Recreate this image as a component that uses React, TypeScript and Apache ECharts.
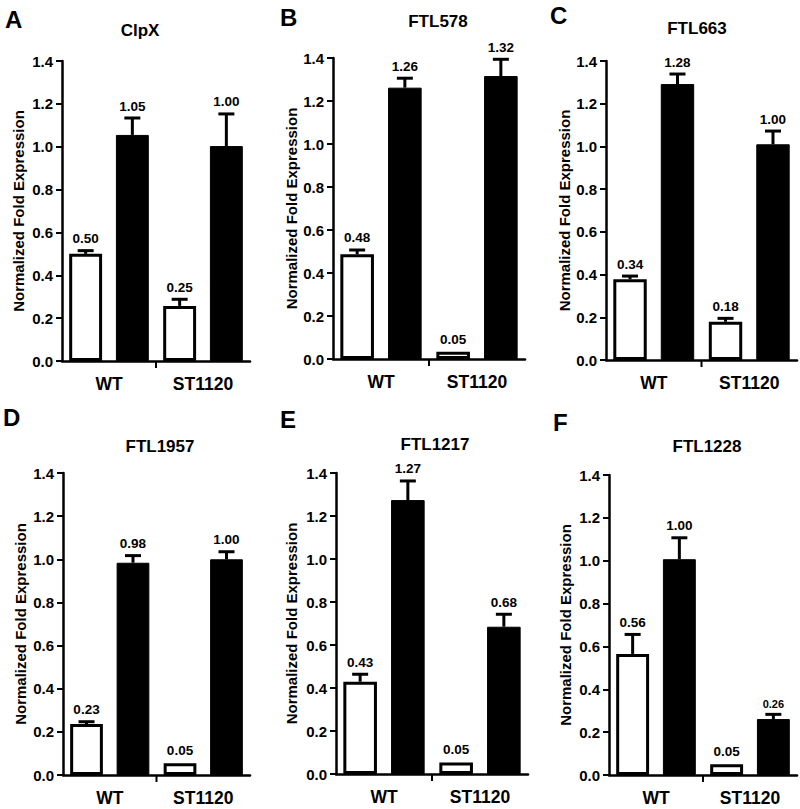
import React, { useEffect, useRef } from "react";
import * as echarts from "echarts";

const categories = ["WT", "ST1120"];
const yTicks = [0, 0.2, 0.4, 0.6, 0.8, 1.0, 1.2, 1.4];

const panelLetters = ["A", "B", "C", "D", "E", "F"];
const panelTitles = ["ClpX", "FTL578", "FTL663", "FTL1957", "FTL1217", "FTL1228"];

// open bars (first series) mean values
const openValues = [
  [0.5, 0.257],
  [0.487, 0.034],
  [0.378, 0.179],
  [0.236, 0.054],
  [0.429, 0.053],
  [0.565, 0.05],
];
// open bars upper error bar ends
const openErrTop = [
  [0.515, 0.288],
  [0.507, 0.034],
  [0.393, 0.195],
  [0.247, 0.058],
  [0.464, 0.057],
  [0.656, 0.053],
];
const openLabels = [
  ["0.50", "0.25"],
  ["0.48", "0.05"],
  ["0.34", "0.18"],
  ["0.23", "0.05"],
  ["0.43", "0.05"],
  ["0.56", "0.05"],
];

// filled bars (second series) mean values
const filledValues = [
  [1.055, 1.003],
  [1.262, 1.316],
  [1.292, 1.01],
  [0.984, 1.0],
  [1.274, 0.685],
  [1.007, 0.261],
];
const filledErrTop = [
  [1.134, 1.153],
  [1.306, 1.394],
  [1.339, 1.072],
  [1.017, 1.035],
  [1.363, 0.743],
  [1.107, 0.283],
];
const filledLabels = [
  ["1.05", "1.00"],
  ["1.26", "1.32"],
  ["1.28", "1.00"],
  ["0.98", "1.00"],
  ["1.27", "0.68"],
  ["1.00", "0.26"],
];

// layout (pixels)
const grids = [
  { left: 62, top: 61, width: 188, height: 300 },
  { left: 333, top: 58, width: 192, height: 301 },
  { left: 606, top: 61, width: 191, height: 299 },
  { left: 63, top: 473, width: 187, height: 302 },
  { left: 336, top: 473, width: 192, height: 301 },
  { left: 609, top: 475, width: 188, height: 300 },
];
const nameGaps = [36, 30, 32, 35, 37, 36];
const titlePos = [
  [140, 22],
  [438, 13],
  [697, 20],
  [160, 438],
  [435, 436],
  [707, 438],
];
const letterPos = [
  [5, 7],
  [280, 5],
  [550, 3],
  [3, 405],
  [280, 407],
  [553, 410],
];
const smallLabelFor = (label: string, panel: number) => panel === 5 && label === "0.26";

const FONT = '"Liberation Sans", Arial, Helvetica, sans-serif';
const BAR_W = 0.35;
const BAR_GAP = 0.42;
const OFFSET = (BAR_W + BAR_W * BAR_GAP) / 2;

function errorRenderer(labels: string[], offsetSign: number, panel: number) {
  return (params: any, api: any) => {
    const cat = api.value(0);
    const v = api.value(1);
    const e = api.value(2);
    const w = api.size([1, 0])[0];
    const base = api.coord([cat, v]);
    const top = api.coord([cat, e]);
    const x = base[0] + offsetSign * OFFSET * w;
    const children: any[] = [];
    if (top[1] < base[1] - 1) {
      children.push({
        type: "line",
        shape: { x1: x, y1: base[1], x2: x, y2: top[1] },
        style: { stroke: "#000", lineWidth: 3 },
      });
      children.push({
        type: "line",
        shape: { x1: x - 8, y1: top[1], x2: x + 8, y2: top[1] },
        style: { stroke: "#000", lineWidth: 3 },
      });
    }
    const label = labels[params.dataIndex];
    const small = smallLabelFor(label, panel);
    children.push({
      type: "text",
      x: x,
      y: top[1] - 5,
      style: {
        text: label,
        fill: "#000",
        font: `bold ${small ? 11 : 13.5}px ${FONT}`,
        align: "center",
        verticalAlign: "bottom",
        textAlign: "center",
        textVerticalAlign: "bottom",
      },
    });
    return { type: "group", children };
  };
}

function tickRenderer(params: any, api: any) {
  const w = api.size([1, 0])[0];
  const p = api.coord([0, 0]);
  const x = p[0] + w / 2;
  return {
    type: "line",
    shape: { x1: x, y1: p[1], x2: x, y2: p[1] + 7 },
    style: { stroke: "#000", lineWidth: 2 },
  };
}

export default function App() {
  const ref = useRef<HTMLDivElement>(null);
  useEffect(() => {
    document.body.style.margin = "0";
    if (!ref.current) return;
    const chart = echarts.init(ref.current, undefined, { renderer: "svg" });

    const grid: any[] = [];
    const xAxis: any[] = [];
    const yAxis: any[] = [];
    const series: any[] = [];
    const graphic: any[] = [];

    for (let i = 0; i < 6; i++) {
      grid.push({ ...grids[i], containLabel: false });
      xAxis.push({
        type: "category",
        gridIndex: i,
        data: categories,
        axisLine: { lineStyle: { color: "#000", width: 2.5 } },
        axisTick: { show: false },
        axisLabel: {
          color: "#000",
          fontSize: 17.5,
          fontWeight: "bold",
          fontFamily: FONT,
          margin: 14,
        },
        splitLine: { show: false },
      });
      yAxis.push({
        type: "value",
        gridIndex: i,
        min: yTicks[0],
        max: yTicks[yTicks.length - 1],
        interval: 0.2,
        name: "Normalized Fold Expression",
        nameLocation: "middle",
        nameGap: nameGaps[i],
        nameTextStyle: {
          color: "#000",
          fontSize: 15,
          fontWeight: "bold",
          fontFamily: FONT,
        },
        axisLine: { show: true, lineStyle: { color: "#000", width: 2.5 } },
        axisTick: { show: true, length: 6, lineStyle: { color: "#000", width: 2 } },
        axisLabel: {
          color: "#000",
          fontSize: 15,
          fontWeight: "bold",
          fontFamily: FONT,
          margin: 9,
          formatter: (v: number) => v.toFixed(1),
        },
        splitLine: { show: false },
      });
      series.push({
        type: "bar",
        xAxisIndex: i,
        yAxisIndex: i,
        data: openValues[i],
        barWidth: `${BAR_W * 100}%`,
        barGap: `${BAR_GAP * 100}%`,
        itemStyle: { color: "#fff", borderColor: "#000", borderWidth: 3 },
        z: 2,
      });
      series.push({
        type: "bar",
        xAxisIndex: i,
        yAxisIndex: i,
        data: filledValues[i],
        barWidth: `${BAR_W * 100}%`,
        barGap: `${BAR_GAP * 100}%`,
        itemStyle: { color: "#000", borderColor: "#000", borderWidth: 1 },
        z: 2,
      });
      series.push({
        type: "custom",
        xAxisIndex: i,
        yAxisIndex: i,
        data: openValues[i].map((v, k) => [k, v, openErrTop[i][k]]),
        encode: { x: 0, y: 1 },
        renderItem: errorRenderer(openLabels[i], -1, i),
        z: 3,
      });
      series.push({
        type: "custom",
        xAxisIndex: i,
        yAxisIndex: i,
        data: filledValues[i].map((v, k) => [k, v, filledErrTop[i][k]]),
        encode: { x: 0, y: 1 },
        renderItem: errorRenderer(filledLabels[i], 1, i),
        z: 3,
      });
      series.push({
        type: "custom",
        xAxisIndex: i,
        yAxisIndex: i,
        data: [[0, 0]],
        encode: { x: 0, y: 1 },
        renderItem: tickRenderer,
        z: 3,
      });
      graphic.push({
        type: "text",
        x: titlePos[i][0],
        y: titlePos[i][1],
        style: {
          text: panelTitles[i],
          fill: "#000",
          font: `bold 17px ${FONT}`,
          align: "center",
          verticalAlign: "top",
          textAlign: "center",
          textVerticalAlign: "top",
        },
      });
      graphic.push({
        type: "text",
        x: letterPos[i][0],
        y: letterPos[i][1],
        style: {
          text: panelLetters[i],
          fill: "#000",
          font: `bold 24px ${FONT}`,
          align: "left",
          verticalAlign: "top",
        },
      });
    }

    chart.setOption({
      animation: false,
      backgroundColor: "#fff",
      grid,
      xAxis,
      yAxis,
      series,
      graphic,
    });
    return () => chart.dispose();
  }, []);
  return <div ref={ref} style={{ width: 800, height: 809 }} />;
}
